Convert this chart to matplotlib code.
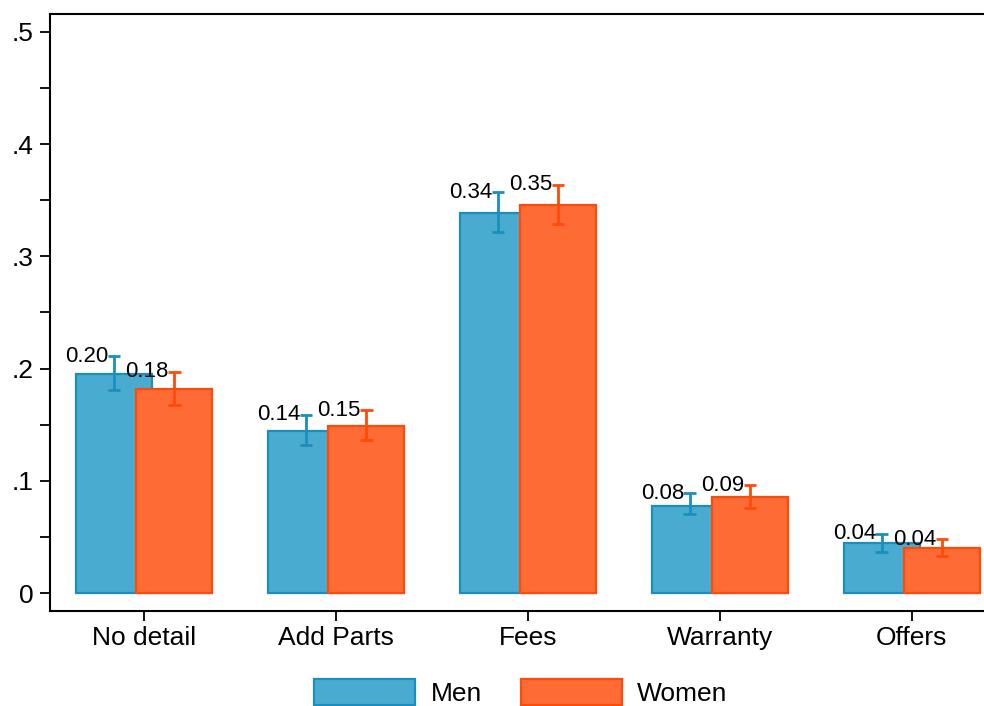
import numpy as np
import matplotlib.pyplot as plt

plt.rcParams['font.family'] = ['Liberation Sans', 'DejaVu Sans']

categories = ['No detail', 'Add Parts', 'Fees', 'Warranty', 'Offers']
men = [0.195, 0.144, 0.339, 0.078, 0.045]
men_lo = [0.181, 0.132, 0.322, 0.070, 0.037]
men_hi = [0.211, 0.159, 0.357, 0.089, 0.053]
women = [0.182, 0.149, 0.346, 0.086, 0.040]
women_lo = [0.168, 0.136, 0.329, 0.076, 0.033]
women_hi = [0.197, 0.163, 0.364, 0.096, 0.048]
men_lab = ['0.20', '0.14', '0.34', '0.08', '0.04']
women_lab = ['0.18', '0.15', '0.35', '0.09', '0.04']

men_fill, men_edge = '#49abd0', '#1a8fbf'
wom_fill, wom_edge = '#ff6b35', '#ff4a0a'

fig = plt.figure(figsize=(9.84, 7.06), dpi=100)
ax = fig.add_axes([50/984, 95/706, 956/984, 597/706])

x = np.arange(len(categories))
w = 0.396
off = 0.158

ax.bar(x - off, men, w, color=men_fill, edgecolor=men_edge, linewidth=1.6, label='Men', zorder=2)
ax.bar(x + off, women, w, color=wom_fill, edgecolor=wom_edge, linewidth=1.6, label='Women', zorder=3)

for xs, lo, hi, c, labs, z in [(x - off, men_lo, men_hi, men_edge, men_lab, 2.5),
                               (x + off, women_lo, women_hi, wom_edge, women_lab, 3.5)]:
    lo = np.array(lo); hi = np.array(hi)
    ax.vlines(xs, lo, hi, color=c, lw=2, zorder=z)
    ax.hlines(lo, xs - 0.032, xs + 0.032, color=c, lw=2, zorder=z)
    ax.hlines(hi, xs - 0.032, xs + 0.032, color=c, lw=2, zorder=z)
    for xi, hv, t in zip(xs, hi, labs):
        ax.annotate(t, (xi, hv), xytext=(-4, 0), textcoords='offset points',
                    ha='right', va='center', fontsize=16, zorder=5)

ax.set_xlim(-0.49, 4.49)
ax.set_ylim(-0.016, 0.516)
ax.set_xticks(x)
ax.set_xticklabels(categories, fontsize=19)
ax.set_yticks([0, 0.1, 0.2, 0.3, 0.4, 0.5])
ax.set_yticklabels(['0', '.1', '.2', '.3', '.4', '.5'], fontsize=19)
ax.set_yticks(np.arange(0.05, 0.5, 0.1), minor=True)
ax.tick_params(axis='both', which='both', length=7, width=1.3, color='black')
ax.tick_params(axis='x', pad=4)
ax.tick_params(axis='y', pad=5)
for s in ax.spines.values():
    s.set_linewidth(1.5)
    s.set_color('black')

fig.legend(loc='upper center', bbox_to_anchor=(521/984, 40/706), ncol=2, frameon=False,
           fontsize=19, handlelength=3.8, handleheight=1.1, handletextpad=0.6,
           columnspacing=1.5, borderpad=0)

fig.savefig('out.png', dpi=100)
